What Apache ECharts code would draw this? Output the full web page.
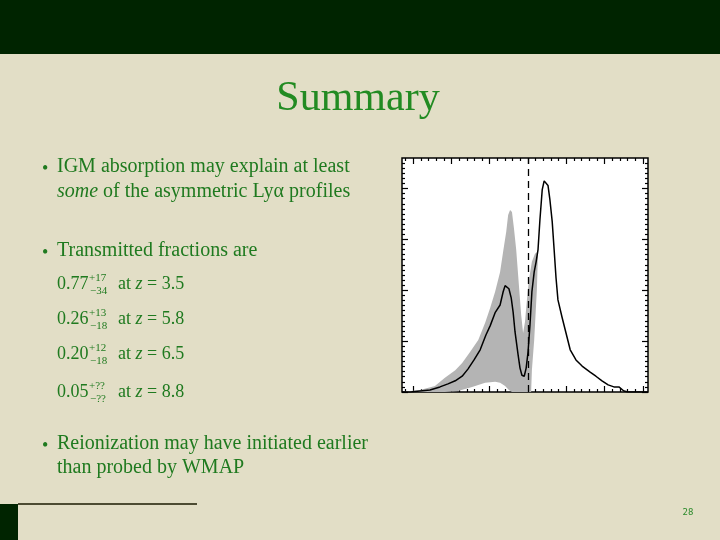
<!DOCTYPE html>
<html>
<head>
<meta charset="utf-8">
<script src="https://cdn.jsdelivr.net/npm/echarts@6/dist/echarts.min.js"></script>
<style>html,body{margin:0;padding:0;background:#E2DEC6;}#c{width:720px;height:540px;}</style>
</head>
<body>
<div id="c"></div>
<script>
// ---- data ----
const lineX = [-3.29,-3.08,-2.82,-2.56,-2.30,-2.09,-1.90,-1.72,-1.57,-1.41,-1.25,-1.10,-0.99,-0.86,-0.73,-0.65,-0.60,-0.55,-0.50,-0.44,-0.39,-0.34,-0.26,-0.21,-0.16,-0.10,-0.05,0.00,0.05,0.10,0.16,0.21,0.26,0.31,0.37,0.42,0.47,0.52,0.57,0.63,0.68,0.73,0.78,0.89,0.99,1.10,1.25,1.41,1.62,1.77,1.93,2.09,2.24,2.37,2.50,2.61,2.92,3.13];
const lineY = [0,0,0.02,0.04,0.10,0.16,0.22,0.31,0.45,0.63,0.83,1.12,1.30,1.56,1.71,1.97,2.09,2.09,2.03,1.85,1.57,1.18,0.73,0.47,0.33,0.31,0.47,0.79,1.32,1.97,2.36,2.56,2.80,3.39,3.98,4.15,4.17,4.06,3.78,3.35,2.80,2.24,1.81,1.46,1.16,0.83,0.63,0.51,0.39,0.31,0.22,0.14,0.10,0.10,0.02,0,0,0];
const bandUpper = [[-3.29,0],[-2.82,0.04],[-2.43,0.12],[-2.17,0.28],[-1.90,0.43],[-1.72,0.57],[-1.51,0.79],[-1.30,1.02],[-1.12,1.36],[-0.99,1.65],[-0.86,1.97],[-0.73,2.36],[-0.65,2.76],[-0.57,3.15],[-0.52,3.48],[-0.47,3.58],[-0.42,3.54],[-0.37,3.23],[-0.31,2.80],[-0.23,2.01],[-0.18,1.52],[-0.13,1.16],[-0.08,1.38],[-0.03,1.81],[0.03,2.24],[0.10,2.56],[0.18,2.72],[0.26,2.76],[0.23,2.01],[0.16,1.02],[0.10,0.43],[0.08,0]];
const bandLower = [[-0.42,0],[-0.50,0.04],[-0.60,0.12],[-0.73,0.18],[-0.86,0.20],[-1.12,0.18],[-1.46,0.10],[-1.83,0.02],[-2.17,0]];
const markX = 0;
const xMajorTicks = [-3,-2,-1,0,1,2,3];
const yMajorTicks = [0,1,2,3,4];
const XMIN = -3.29, XMAX = 3.13, YMIN = 0, YMAX = 4.6;

const fractions = ['0.77','0.26','0.20','0.05'];
const plusErr = ['+17','+13','+12','+??'];
const minusErr = ['\u221234','\u221218','\u221218','\u2212??'];
const redshifts = ['3.5','5.8','6.5','8.8'];

// ---- minor ticks ----
const xMinorTicks = [];
for (let i = -16; i <= 15; i++) { const v = +(i*0.2).toFixed(2); if (Math.abs(v - Math.round(v)) > 1e-6 && v > XMIN && v < XMAX) xMinorTicks.push(v); }
const yMinorTicks = [];
for (let i = 1; i < 46; i++) { const v = +(i*0.1).toFixed(2); if (Math.abs(v - Math.round(v)) > 1e-6) yMinorTicks.push(v); }

const chart = echarts.init(document.getElementById('c'), null, {renderer:'canvas'});

function xAx(pos, vals, len){
  return {type:'value', min:XMIN, max:XMAX, position:pos, gridIndex:0,
    axisLine:{show:false,onZero:false}, splitLine:{show:false}, axisLabel:{show:false},
    axisTick:{show:true, inside:true, length:len, customValues:vals, lineStyle:{color:'#000',width:1.2}}};
}
function yAx(pos, vals, len){
  return {type:'value', min:YMIN, max:YMAX, position:pos, gridIndex:0,
    axisLine:{show:false,onZero:false}, splitLine:{show:false}, axisLabel:{show:false},
    axisTick:{show:true, inside:true, length:len, customValues:vals, lineStyle:{color:'#000',width:1.2}}};
}

const BODY = 'Liberation Serif';
const GREEN = '#1f7a1f';
function mid(baseline, fs){ return baseline - 0.34*fs; }
function txt(x, baseline, fs, text, extra){
  const st = Object.assign({text:text, fill:GREEN, fontFamily:BODY, fontSize:fs, align:'left', verticalAlign:'middle'}, extra||{});
  return {type:'text', x:x, y:mid(baseline, fs), style:st, z:10};
}
const italicRich = (fs) => ({i:{fontFamily:BODY, fontSize:fs, fontStyle:'italic', fill:GREEN}, n:{fontFamily:BODY, fontSize:fs, fill:GREEN}});

const graphics = [
  {type:'rect', shape:{x:0,y:0,width:720,height:54}, style:{fill:'#002400'}, z:1},
  {type:'rect', shape:{x:0,y:504,width:18,height:36}, style:{fill:'#002400'}, z:1},
  {type:'line', shape:{x1:18,y1:504,x2:197,y2:504}, style:{stroke:'#1a1a00',lineWidth:1.5}, z:1},
  {type:'text', x:358, y:mid(113,42), style:{text:'Summary', fill:'#228b22', fontFamily:BODY, fontSize:42, align:'center', verticalAlign:'middle'}, z:10},
  {type:'text', x:688, y:513, style:{text:'28', fill:'#2a8a2a', fontFamily:'DejaVu Sans Mono', fontSize:9, align:'center', verticalAlign:'middle'}, z:10},
  txt(42, 175, 18, '\u2022'),
  txt(57, 174, 20, 'IGM absorption may explain at least'),
  txt(57, 199, 20, '{i|some}{n| of the asymmetric Ly\u03b1 profiles}', {rich: italicRich(20)}),
  txt(42, 259, 18, '\u2022'),
  txt(57, 258, 20, 'Transmitted fractions are'),
  txt(42, 452, 18, '\u2022'),
  txt(57, 451, 20, 'Reionization may have initiated earlier'),
  txt(57, 475, 20, 'than probed by WMAP')
];
const eqBase = [290, 325, 360, 398];
fractions.forEach((f, k) => {
  const b = eqBase[k];
  graphics.push(txt(57, b, 18, f));
  graphics.push(txt(89, b-8, 11, plusErr[k]));
  graphics.push(txt(90, b+5, 11, minusErr[k]));
  graphics.push(txt(118, b, 18, '{n|at }{i|z}{n| = ' + redshifts[k] + '}', {rich: italicRich(18)}));
});

const option = {
  backgroundColor:'#E2DEC6',
  animation:false,
  grid:{left:402, top:158, width:246, height:234, show:true, backgroundColor:'#ffffff', borderColor:'#000', borderWidth:1.5, containLabel:false},
  xAxis:[xAx('bottom', xMajorTicks, 6), xAx('bottom', xMinorTicks, 3), xAx('top', xMajorTicks, 6), xAx('top', xMinorTicks, 3)],
  yAxis:[yAx('left', yMajorTicks, 6), yAx('left', yMinorTicks, 3), yAx('right', yMajorTicks, 6), yAx('right', yMinorTicks, 3)],
  graphic: graphics,
  series:[
    {type:'custom', xAxisIndex:0, yAxisIndex:0, z:1, silent:true, clip:true,
     data:[[0,0]],
     renderItem:function(params, api){
       const pts = bandUpper.concat(bandLower).map(p => api.coord(p));
       return {type:'polygon', shape:{points:pts}, style:{fill:'#b4b4b4', stroke:null}};
     }},
    {type:'line', xAxisIndex:0, yAxisIndex:0, z:3, showSymbol:false, silent:true,
     data: lineX.map((x,i)=>[x, lineY[i]]),
     lineStyle:{color:'#000', width:1.5},
     markLine:{silent:true, symbol:['none','none'], label:{show:false},
       lineStyle:{color:'#000', width:1.3, type:[7,5]},
       data:[{xAxis:markX}]}}
  ]
};
chart.setOption(option);
</script>
</body>
</html>
